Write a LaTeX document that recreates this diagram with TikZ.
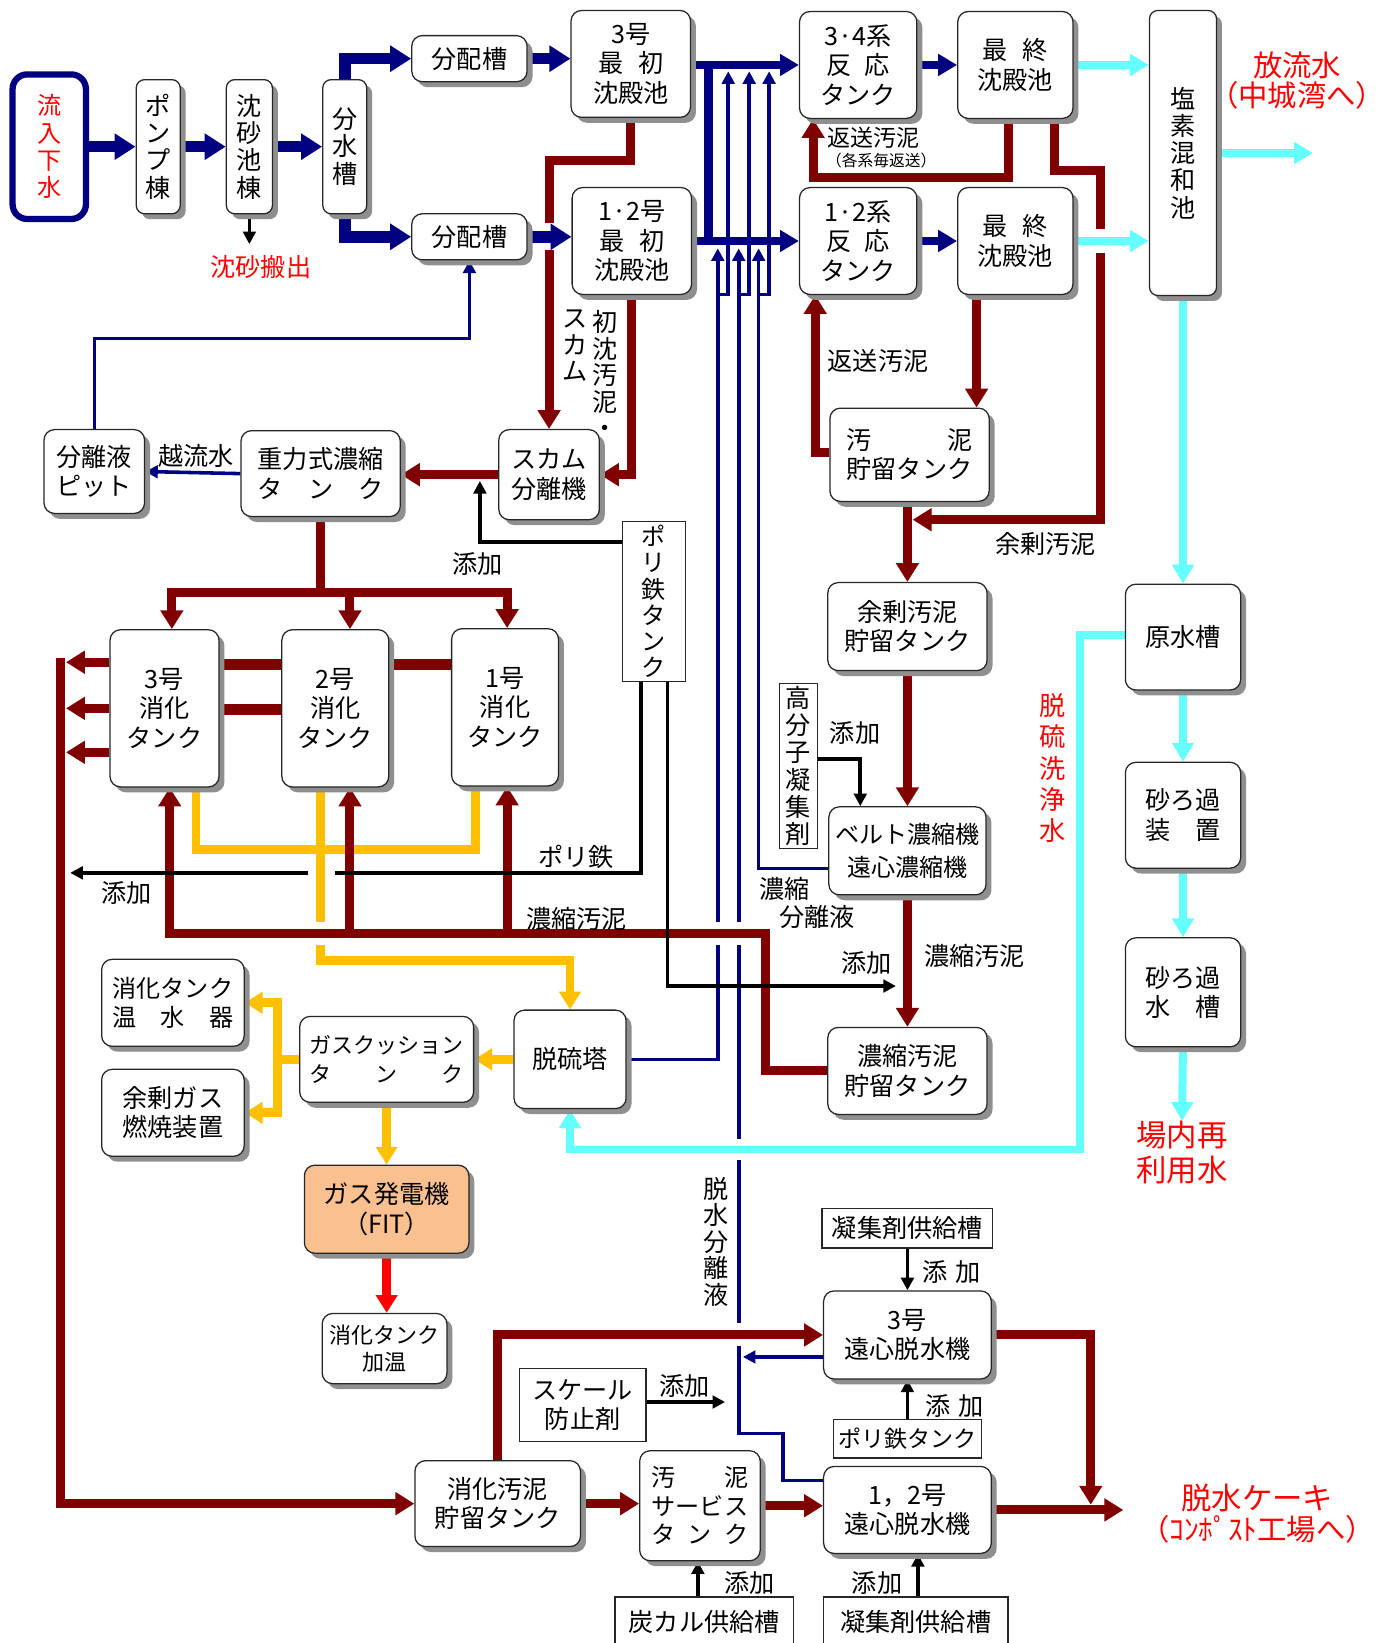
\documentclass[tikz,border=0pt]{standalone}
\usepackage{fontspec}
\setmainfont{Noto Sans CJK JP}
\usepackage{xcolor}
\definecolor{cNavy}{HTML}{000080}
\definecolor{cSludge}{HTML}{800000}
\definecolor{cWater}{HTML}{66FFFF}
\definecolor{cGas}{HTML}{FFC000}
\definecolor{cNote}{HTML}{FF0000}
\definecolor{cPeach}{HTML}{FAC090}
\definecolor{cShade}{HTML}{8F8F8F}
\usepackage{tikz}
\usetikzlibrary{positioning,arrows.meta,shadows,backgrounds}
\newcommand\boxfont{\fontsize{12}{14}\selectfont}
\newcommand\vboxfont{\fontsize{12}{13}\selectfont}
\newcommand\vlabelfont{\fontsize{12}{12.7}\selectfont}
\newcommand\notefont{\fontsize{14}{16.5}\selectfont}
\newcommand\evenly[2]{\makebox[#1][s]{#2}}
\tikzset{
  sz/.style 2 args={minimum width=#1*0.5pt,minimum height=#2*0.5pt},
  node-box/.style={draw=black!85,line width=0.6pt,rounded corners=5pt,fill=white,
    align=center,inner sep=1pt,font=\boxfont,
    drop shadow={shadow xshift=2.6pt,shadow yshift=-2.6pt,fill=cShade,opacity=1}},
  node-tall/.style={font=\vboxfont,rounded corners=4pt},
  node-inflow/.style={draw=cNavy,line width=3pt,rounded corners=7pt,fill=white,
    align=center,text=cNote,font=\fontsize{11.5}{13}\selectfont},
  node-chem/.style={draw=black!85,line width=0.6pt,fill=white,align=center,
    inner sep=1pt,font=\boxfont},
  node-label/.style={align=center,inner sep=0pt,font=\boxfont},
  node-note/.style={align=center,inner sep=0pt,text=cNote,font=\notefont},
  % 流れの種類ごとの線: 紺=水, 茶=汚泥, 水色=処理水, 黄=ガス, 黒=薬品
  arrow-main/.style={-{Triangle[length=10pt,width=12pt]},line width=5.5pt,draw=cNavy},
  arrow-feed/.style={-{Triangle[length=9pt,width=10pt]},line width=4pt,draw=cNavy},
  line-feed/.style={line width=4pt,draw=cNavy},
  line-return/.style={line width=1.7pt,draw=cNavy},
  arrow-return/.style={line-return,-{Triangle[length=6pt,width=6pt]}},
  arrow-sludge/.style={-{Triangle[length=9pt,width=10.5pt]},line width=4.3pt,draw=cSludge},
  line-sludge/.style={line width=4.3pt,draw=cSludge},
  arrow-water/.style={-{Triangle[length=9pt,width=10pt]},line width=3.8pt,draw=cWater},
  arrow-gas/.style={-{Triangle[length=8.5pt,width=10pt]},line width=4.2pt,draw=cGas},
  line-gas/.style={line width=4.2pt,draw=cGas},
  arrow-power/.style={-{Triangle[length=8.5pt,width=10pt]},line width=4pt,draw=cNote},
  arrow-chem/.style={-{Triangle[length=6pt,width=6pt]},line width=1.8pt,draw=black},
  line-chem/.style={line width=1.8pt,draw=black},
  halo/.style={preaction={draw=white,line width=#1,arrows=-}},
}

\begin{document}
\begin{tikzpicture}[x=0.5pt,y=-0.5pt]
  \useasboundingbox (0,0) rectangle (1321,1568);

  % 水処理
  \node[node-inflow,sz={70}{138}] (inflow) at (47,140) {流\\入\\下\\水};
  \node[node-box,node-tall,sz={42}{128}] (pump) at (151,140) {ポ\\ン\\プ\\棟};
  \node[node-box,node-tall,sz={44}{128}] (grit) at (238,140) {沈\\砂\\池\\棟};
  \node[node-box,node-tall,sz={42}{128}] (split) at (329,140) {分\\水\\槽};
  \node[node-box,sz={110}{44}] (dist3) at (448,56) {分配槽};
  \node[node-box,sz={110}{44}] (dist12) at (448,226) {分配槽};
  \node[node-box,sz={114}{102}] (pc3) at (602,61) {3号\\最\hspace{.6em}初\\沈殿池};
  \node[node-box,sz={114}{102}] (pc12) at (603,230) {1·2号\\最\hspace{.6em}初\\沈殿池};
  \node[node-box,sz={112}{102}] (rt34) at (819,62) {3·4系\\反\hspace{.5em}応\\タンク};
  \node[node-box,sz={112}{102}] (rt12) at (819,230) {1·2系\\反\hspace{.5em}応\\タンク};
  \node[node-box,sz={110}{102}] (fs34) at (969,62) {最\hspace{.6em}終\\沈殿池};
  \node[node-box,sz={110}{102}] (fs12) at (969,230) {最\hspace{.6em}終\\沈殿池};
  \node[node-box,node-tall,sz={64}{272}] (chlor) at (1129,146) {塩\\素\\混\\和\\池};
  \node[node-box,sz={110}{101}] (raw) at (1129,608) {原水槽};
  \node[node-box,sz={110}{101}] (sandf) at (1129,778) {砂ろ過\\\evenly{3em}{装\hfill 置}};
  \node[node-box,sz={110}{104}] (sandw) at (1129,947) {砂ろ過\\\evenly{3em}{水\hfill 槽}};

  % 汚泥処理
  \node[node-box,sz={96}{80}] (seppit) at (90,450) {分離液\\\evenly{3em}{ピ\hfill ッ\hfill ト}};
  \node[node-box,sz={152}{82}] (gthick) at (306,452) {重力式濃縮\\\evenly{5em}{タ\hfill ン\hfill ク}};
  \node[node-box,sz={96}{86}] (scum) at (524,453) {スカム\\分離機};
  \node[node-chem,font=\fontsize{11.5}{12.5}\selectfont,sz={60}{153}] (polyA) at (624,574) {ポ\\リ\\鉄\\タ\\ン\\ク};
  \node[node-box,sz={152}{89}] (sst) at (868,434) {\evenly{5em}{汚\hfill 泥}\\貯留タンク};
  \node[node-box,sz={152}{84}] (was) at (866,598) {余剰汚泥\\貯留タンク};
  \node[node-chem,font=\vboxfont,sz={36}{158}] (polymer) at (762,731) {高\\分\\子\\凝\\集\\剤};
  \node[node-box,font=\fontsize{11.5}{16}\selectfont,sz={150}{84}] (mthick) at (866,812) {ベルト濃縮機\\遠心濃縮機};
  \node[node-box,sz={152}{83}] (tss) at (866,1022) {濃縮汚泥\\貯留タンク};
  \node[node-box,sz={104}{150}] (dig3) at (157,676) {3号\\消化\\タンク};
  \node[node-box,sz={102}{150}] (dig2) at (320,676) {2号\\消化\\タンク};
  \node[node-box,sz={102}{150}] (dig1) at (482,675) {1号\\消化\\タンク};

  % ガス系
  \node[node-box,sz={107}{94}] (desulf) at (544,1011) {脱硫塔};
  \node[node-box,font=\fontsize{10.5}{14}\selectfont,sz={166}{82}] (gasc) at (369,1011) {ガスクッション\\\evenly{7em}{タ\hfill ン\hfill ク}};
  \node[node-box,font=\fontsize{11.5}{14}\selectfont,sz={136}{83}] (heater) at (165,957) {消化タンク\\\evenly{5em}{温\hfill 水\hfill 器}};
  \node[node-box,sz={136}{83}] (flare) at (165,1062) {余剰ガス\\燃焼装置};
  \node[node-box,fill=cPeach,sz={157}{84}] (gen) at (369,1154) {ガス発電機\\（FIT）};
  \node[node-box,font=\fontsize{10.5}{13}\selectfont,sz={119}{67}] (dheat) at (367,1287) {消化タンク\\加温};

  % 脱水系
  \node[node-box,sz={158}{82}] (dss) at (475,1435) {消化汚泥\\貯留タンク};
  \node[node-box,font=\fontsize{11.5}{13.5}\selectfont,sz={115}{105}] (svc) at (668,1437) {\evenly{4em}{汚\hfill 泥}\\サービス\\\evenly{4em}{タ\hfill ン\hfill ク}};
  \node[node-box,sz={160}{84}] (cf3) at (866,1274) {3号\\遠心脱水機};
  \node[node-box,sz={160}{83}] (cf12) at (866,1441) {1，2号\\遠心脱水機};
  \node[node-chem,sz={163}{38}] (coag3) at (866,1172) {凝集剤供給槽};
  \node[node-chem,font=\fontsize{11}{13}\selectfont,sz={141}{37}] (polyB) at (866,1373) {ポリ鉄タンク};
  \node[node-chem,sz={121}{70}] (scale) at (556,1341) {スケール\\防止剤};
  \node[node-chem,sz={170}{48}] (ccal) at (672,1548) {炭カル供給槽};
  \node[node-chem,sz={176}{48}] (coag12) at (874,1548) {凝集剤供給槽};

  % 文字
  \node[node-note] (outfall) at (1238,62) {放流水};
  \node[node-note,below=1pt of outfall] (outfall-to) {（中城湾へ）};
  \node[node-note,font=\fontsize{12}{14}\selectfont] (grit-out) at (249,255) {沈砂搬出};
  \node[node-note,font=\fontsize{14.5}{16.5}\selectfont] (reuse) at (1128,1100) {場内再\\利用水};
  \node[node-note,font=\fontsize{14.5}{16.5}\selectfont] (cake) at (1200,1430) {脱水ケーキ};
  \node[node-note,below=1pt of cake] (cake-to) {（ｺﾝﾎﾟｽﾄ工場へ）};
  \node[node-note,font=\fontsize{12.5}{15}\selectfont] at (1005,733) {脱\\硫\\洗\\浄\\水};
  \node[node-label,font=\fontsize{11}{13}\selectfont] at (834,131) {返送汚泥};
  \node[node-label,font=\fontsize{7.5}{9}\selectfont] at (841,153) {（各系毎返送）};
  \node[node-label] at (838,344) {返送汚泥};
  \node[node-label] at (998,519) {余剰汚泥};
  \node[node-label] at (187,435) {越流水};
  \node[node-label] at (456,538) {添加};
  \node[node-label,font=\vlabelfont] at (577,357) {初\\沈\\汚\\泥\\・};
  \node[node-label,font=\vlabelfont] at (549,330) {ス\\カ\\ム};
  \node[node-label] at (816,700) {添加};
  \node[node-label] at (749,848) {濃縮};
  \node[node-label] at (780,875) {分離液};
  \node[node-label] at (930,912) {濃縮汚泥};
  \node[node-label] at (827,919) {添加};
  \node[node-label] at (550,818) {ポリ鉄};
  \node[node-label] at (121,852) {添加};
  \node[node-label] at (550,877) {濃縮汚泥};
  \node[node-label,font=\vlabelfont] at (683,1185) {脱\\水\\分\\離\\液};
  \node[node-label] at (908,1214) {添\hspace{.3em}加};
  \node[node-label] at (911,1342) {添\hspace{.3em}加};
  \node[node-label] at (653,1323) {添加};
  \node[node-label] at (715,1511) {添加};
  \node[node-label] at (837,1511) {添加};

  \coordinate (r1) at (685,281);
  \coordinate (r2) at (705,281);
  \coordinate (r3) at (724,281);
  \coordinate (dig-hdr) at (306,565);
  \coordinate (dig-drain) at (58,628);
  \coordinate (was-join) at (871,496);
  \coordinate (gas-split) at (265,1011);
  \coordinate (outfall-pt) at (1253,146);
  \coordinate (cake-pt) at (1072,1441);
  \coordinate (cake-join) at (1041,1436);
  \coordinate (grit-pt) at (238,233);
  \coordinate (scum-dose) at (458,459);
  \coordinate (poly-gap-r) at (320,833);
  \coordinate (poly-gap-l) at (294,833);
  \coordinate (poly-dig) at (67,833);
  \coordinate (poly-thk) at (855,941);
  \coordinate (scale-pt) at (692,1338);

  \begin{scope}[on background layer]
    \fill[white] (0,0) rectangle (1321,1568);
    % 返流水
    \draw[line-return] (desulf.east) -| (r1);
    \draw[line-return] (cf12.west |- 0,1413) -| (747,1368) -| (r2);
    \draw[line-return] (mthick.west |- 0,829) -| (r3);
    \foreach \p in {r1,r2,r3} {
      \draw[arrow-return] (\p) -- ++(0,-44);
      \draw[arrow-return] (\p) -- ++(10,0) -- ++(0,-213);
    }
    \draw[arrow-return] (cf3.west |- 0,1295) -- (709,1295);
    \draw[arrow-return] (gthick.west) -- (seppit.east);
    \draw[arrow-return] (seppit.north) |- (dist12.south |- 0,323) -- (dist12.south);

    \draw[arrow-sludge] (pc3.south) |- (scum.north |- 0,153) -- (scum.north);
    \draw[arrow-sludge] (fs34.south -| 1006,0) |- (1050,163) -- (1050,496) -- (was-join);

    % 主流
    \draw[arrow-main] (inflow.east) -- (pump.west);
    \draw[arrow-main] (pump.east) -- (grit.west);
    \draw[arrow-main] (grit.east) -- (split.west);
    \draw[arrow-main] (split.north) |- (dist3.west);
    \draw[arrow-main] (split.south) |- (dist12.west);
    \draw[arrow-main] (dist3.east) -- (dist3.east -| pc3.west);
    \draw[arrow-main,halo=13pt] (dist12.east) -- (dist12.east -| pc12.west);
    \draw[arrow-feed] (pc3.east |- rt34.west) -- (rt34.west);
    \draw[arrow-feed] (pc12.east |- rt12.west) -- (rt12.west);
    \draw[line-feed] (rt34.west -| 676,0) -- (rt12.west -| 676,0);
    \draw[arrow-feed] (rt34.east) -- (fs34.west);
    \draw[arrow-feed] (rt12.east) -- (fs12.west);

    % 処理水
    \draw[arrow-water] (fs34.east) -- (fs34.east -| chlor.west);
    \draw[arrow-water,halo=11pt] (fs12.east) -- (fs12.east -| chlor.west);
    \draw[arrow-water] (chlor.east) -- (outfall-pt);
    \draw[arrow-water] (chlor.south) -- (raw.north);
    \draw[arrow-water] (raw.south) -- (sandf.north);
    \draw[arrow-water] (sandf.south) -- (sandw.north);
    \draw[arrow-water] (sandw.south) -- (reuse.north);
    \draw[arrow-water,halo=10pt] (raw.west |- 0,606) -| (1031,1097) -| (desulf.south);

    % 汚泥
    \draw[arrow-sludge] (pc12.south) |- (scum.east);
    \draw[arrow-sludge] (scum.west) -- (scum.west -| gthick.east);
    \draw[line-sludge] (gthick.south) -- (dig-hdr);
    \draw[arrow-sludge] (dig-hdr) -| (dig3.north -| 164,0);
    \draw[arrow-sludge] (dig-hdr) -| (dig2.north -| 334,0);
    \draw[arrow-sludge] (dig-hdr) -| (dig1.north -| 484,0);
    \draw[line-sludge,line width=5.5pt] (dig3.east |- 0,634) -- (dig2.west |- 0,634);
    \draw[line-sludge,line width=5.5pt] (dig2.east |- 0,634) -- (dig1.west |- 0,634);
    \draw[line-sludge,line width=5.5pt] (dig3.east |- 0,677) -- (dig2.west |- 0,677);
    \foreach \y in {632,676,718}
      \draw[arrow-sludge] (dig3.west |- 0,\y) -- (63,\y);
    \draw[arrow-sludge] (dig-drain) |- (dss.west);
    \draw[arrow-sludge] (fs34.south -| 962,0) |- (776,169) -- (rt34.south -| 776,0);
    \draw[arrow-sludge] (fs12.south -| 932,0) -- (sst.north -| 932,0);
    \draw[arrow-sludge] (sst.west |- 0,432) -| (rt12.south -| 778,0);
    \draw[arrow-sludge] (sst.south -| was.north) -- (was.north);
    \draw[arrow-sludge] (was.south) -- (mthick.north);
    \draw[arrow-sludge] (mthick.south) -- (tss.north);

    % ガス
    \draw[arrow-gas] (dig2.south -| 306,0) |- (desulf.north |- 0,917) -- (desulf.north);
    \draw[line-gas] (dig3.south -| 187,0) |- (454,811) -- (dig1.south -| 454,0);
    \draw[arrow-gas] (desulf.west) -- (desulf.west -| gasc.east);
    \draw[line-gas] (gasc.west) -- (gas-split);
    \draw[arrow-gas] (gas-split) |- (heater.east);
    \draw[arrow-gas] (gas-split) |- (flare.east);
    \draw[arrow-gas] (gasc.south -| gen.north) -- (gen.north);
    \draw[arrow-power] (gen.south) -- (gen.south |- dheat.north);

    % 濃縮汚泥 → 消化タンク
    \draw[arrow-sludge,halo=11pt] (tss.west) -| (731,891) -| (dig3.south -| 162,0);
    \draw[arrow-sludge] (dig2.south -| 334,0) ++(0,139) -- (dig2.south -| 334,0);
    \draw[arrow-sludge] (dig1.south -| 484,0) ++(0,141) -- (dig1.south -| 484,0);

    % 脱水
    \draw[arrow-sludge,halo=11pt] (dss.north) |- (cf3.west);
    \draw[arrow-sludge] (dss.east) -- (dss.east -| svc.west);
    \draw[arrow-sludge] (svc.east) -- (svc.east -| cf12.west);
    \draw[arrow-sludge] (cf12.east) -- (cake-pt);
    \draw[arrow-sludge] (cf3.east) -| (cake-join);

    % 薬品
    \draw[arrow-chem] (grit.south) -- (grit-pt);
    \draw[arrow-chem] (polyA.west |- 0,517) -| (scum-dose);
    \draw[line-chem] (polyA.south -| 612,0) |- (poly-gap-r);
    \draw[arrow-chem] (poly-gap-l) -- (poly-dig);
    \draw[arrow-chem] (polyA.south -| 637,0) |- (poly-thk);
    \draw[arrow-chem] (polymer.east |- 0,724) -| (mthick.north -| 821,0);
    \draw[arrow-chem] (coag3.south) -- (cf3.north);
    \draw[arrow-chem] (polyB.north) -- (cf3.south);
    \draw[arrow-chem] (scale.east |- 0,1338) -- (scale-pt);
    \draw[arrow-chem] (ccal.north -| 666,0) -- (svc.south -| 666,0);
    \draw[arrow-chem] (coag12.north -| 876,0) -- (cf12.south -| 876,0);
  \end{scope}
\end{tikzpicture}
\end{document}
